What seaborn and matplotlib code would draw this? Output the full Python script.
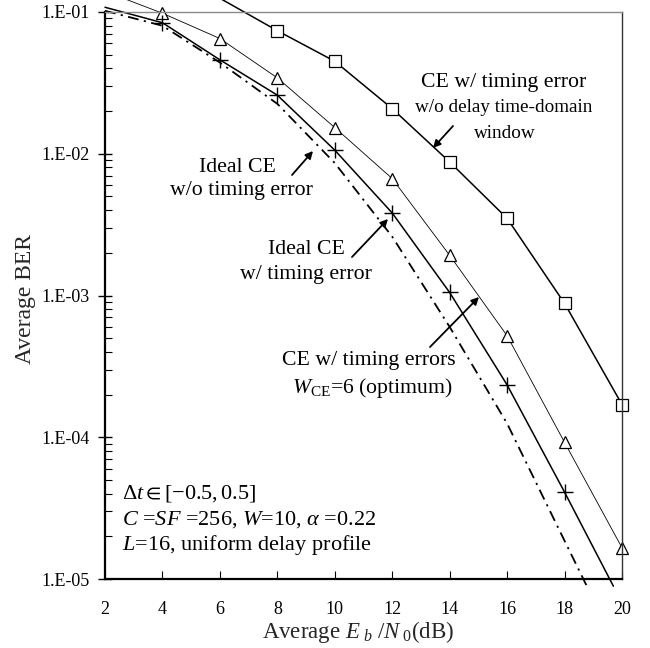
import numpy as np
import pandas as pd
import matplotlib
matplotlib.use("Agg")
import matplotlib.pyplot as plt
import seaborn as sns
from matplotlib.ticker import FixedLocator, LogLocator, FuncFormatter, NullFormatter

# ---------------- data ----------------
snr_tri = [2, 4, 6, 8, 10, 12, 14, 16, 18, 20]
ber_tri = [0.14, 0.098, 0.065, 0.0343, 0.0153, 0.00668, 0.00192, 5.2e-4, 9.2e-5, 1.66e-5]

snr_plus = [2, 4, 6, 8, 10, 12, 14, 16, 18, 19.7]
ber_plus = [0.108, 0.084, 0.046, 0.0259, 0.0106, 0.00382, 0.00105, 2.34e-4, 4.1e-5, 8.9e-6]

snr_sq = [6, 8, 10, 12, 14, 16, 18, 20]
ber_sq = [0.125, 0.0738, 0.0449, 0.0208, 0.00875, 0.0035, 8.8e-4, 1.7e-4]

snr_ideal = [2, 4, 6, 8, 10, 12, 14, 16, 18, 18.8]
ber_ideal = [0.102, 0.080, 0.044, 0.0225, 0.0086, 0.0026, 6.0e-4, 1.25e-4, 1.86e-5, 8.7e-6]

xticks = [2, 4, 6, 8, 10, 12, 14, 16, 18, 20]
yticks = [1e-5, 1e-4, 1e-3, 1e-2, 1e-1]

# ---------------- style ----------------
sns.set_theme(style="ticks")
plt.rcParams["font.family"] = ["Liberation Serif", "DejaVu Serif"]
plt.rcParams["mathtext.fontset"] = "custom"
plt.rcParams["mathtext.rm"] = "Liberation Serif"
plt.rcParams["mathtext.it"] = "Liberation Serif:italic"
plt.rcParams["mathtext.fallback"] = "stix"

W, H = 650, 648
fig = plt.figure(figsize=(W / 100, H / 100), dpi=100)
L, R, T, B = 105, 622, 12, 579
ax = fig.add_axes([L / W, (H - B) / H, (R - L) / W, (B - T) / H])
ax.set_facecolor("white")

def af(px, py):
    return ((px - L) / (R - L), (B - py) / (B - T))

df_tri = pd.DataFrame({"x": snr_tri, "y": ber_tri})
df_plus = pd.DataFrame({"x": snr_plus, "y": ber_plus})
df_sq = pd.DataFrame({"x": snr_sq, "y": ber_sq})
df_ideal = pd.DataFrame({"x": snr_ideal, "y": ber_ideal})

sns.lineplot(data=df_ideal, x="x", y="y", ax=ax, color="black", lw=1.3,
             linestyle=(0, (6, 3, 1.2, 3)), clip_on=False, sort=False)
sns.lineplot(data=df_tri, x="x", y="y", ax=ax, color="black", lw=0.6,
             marker="^", markersize=9, markerfacecolor="white",
             markeredgecolor="black", markeredgewidth=0.9,
             markevery=list(range(1, len(snr_tri))), clip_on=False, sort=False)
sns.lineplot(data=df_plus, x="x", y="y", ax=ax, color="black", lw=1.1,
             marker="+", markersize=12, markeredgewidth=1.0,
             markeredgecolor="black", markerfacecolor="black",
             markevery=list(range(1, len(snr_plus) - 1)), clip_on=False, sort=False)
sns.lineplot(data=df_sq, x="x", y="y", ax=ax, color="black", lw=1.1,
             marker="s", markersize=8, markerfacecolor="white",
             markeredgecolor="black", markeredgewidth=0.9,
             markevery=list(range(1, len(snr_sq))), clip_on=False, sort=False)

ax.set_yscale("log")
ax.set_xlim(2, 20)
ax.set_ylim(1e-5, 1e-1)
ax.xaxis.set_major_locator(FixedLocator(xticks))
ax.yaxis.set_major_locator(FixedLocator(yticks))
ax.yaxis.set_minor_locator(LogLocator(base=10, subs=np.arange(2, 10)))
ax.yaxis.set_minor_formatter(NullFormatter())
ax.yaxis.set_major_formatter(FuncFormatter(lambda v, p: "1.E-%02d" % int(round(-np.log10(v)))))

ax.tick_params(axis="y", which="major", direction="inout", length=10, width=1,
               labelsize=13, pad=6, colors="black")
ax.tick_params(axis="y", which="minor", direction="in", length=5, width=0.8, colors="black")
ax.tick_params(axis="x", which="major", direction="in", length=6, width=0.8,
               labelsize=13, pad=16, colors="black")

for s in ["left", "bottom"]:
    ax.spines[s].set_linewidth(1.6)
    ax.spines[s].set_color("black")
ax.spines["top"].set_linewidth(1.0)
ax.spines["top"].set_color("#8a8a8a")
ax.spines["right"].set_linewidth(1.0)
ax.spines["right"].set_color("#333333")

ax.set_xlabel(r"Average $E_{\ b}\ /N_{\ 0}$(dB)", fontsize=16.5)
ax.set_ylabel("Average BER", fontsize=17)
ax.xaxis.set_label_coords(0.49, -0.07)
ax.yaxis.set_label_coords(-0.134, 0.494)

# ---------------- annotations ----------------
def txt(px, py, s, fs, ha="center"):
    ax.text(*af(px, py), s, transform=ax.transAxes, fontsize=fs, ha=ha,
            va="center", color="black")

def arrow(tail, head):
    ax.annotate("", xy=af(*head), xytext=af(*tail), xycoords="axes fraction",
                textcoords="axes fraction",
                arrowprops=dict(arrowstyle="-|>", lw=1.3, color="black",
                                mutation_scale=11, shrinkA=0, shrinkB=0))

txt(504, 82, "CE w/ timing error", 15.7)
txt(504, 108, "w/o delay time-domain", 13.8)
txt(505, 133, "window", 13.8)
arrow((453, 126), (433, 148))

txt(237, 167, "Ideal CE", 15.7)
txt(241, 190, "w/o timing error", 15.7)
arrow((292, 175), (313, 151))

txt(306, 249, "Ideal CE", 15.7)
txt(306, 275, "w/ timing error", 15.7)
arrow((352, 257), (388, 219))

txt(369, 360, "CE w/ timing errors", 15.7)
txt(372, 388, r"$W_{\mathrm{CE}}$=6 (optimum)", 15.7)
arrow((430, 347), (479, 297))

txt(122, 493, r"$\Delta t \in [-0.5,0.5]$", 16, ha="left")
txt(122, 520, r"$C$ =$SF$ =256, $W$=10, $\alpha$ =0.22", 16, ha="left")
txt(122, 545, r"$L$=16, uniform delay profile", 16, ha="left")

fig.savefig("out.png", dpi=100, facecolor="white")
